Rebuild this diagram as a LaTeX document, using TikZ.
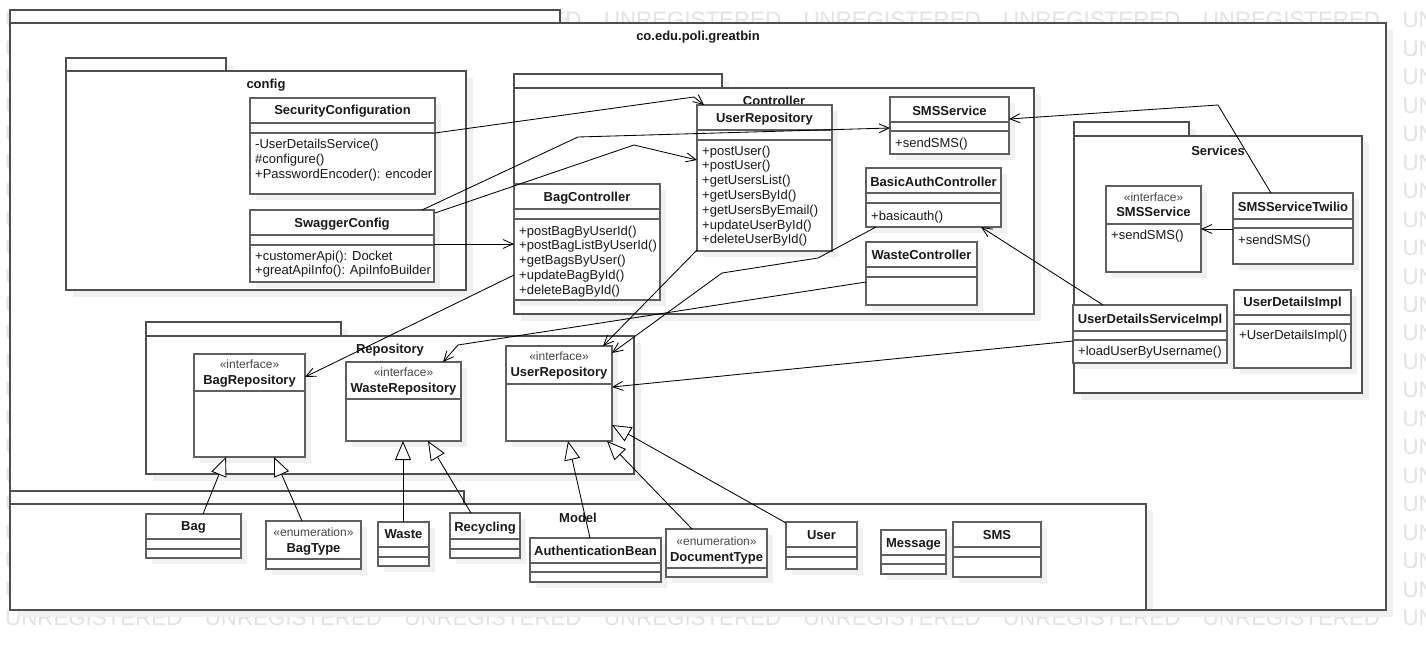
\documentclass[tikz,border=0pt]{standalone}
\usepackage{fontspec}
\setmainfont{Liberation Sans}
\usetikzlibrary{arrows.meta,calc}
\definecolor{wm}{RGB}{226,226,226}
\definecolor{shd}{RGB}{240,240,240}
\definecolor{bord}{RGB}{95,95,95}
\definecolor{pbord}{RGB}{78,78,78}
\definecolor{txt}{RGB}{25,25,25}
\definecolor{stc}{RGB}{70,70,70}
\tikzset{
  pkgbox/.style={draw=pbord, fill=white, line width=1.3pt, inner sep=0pt, outer sep=0pt, anchor=north west},
  clsbox/.style={draw=bord, fill=white, line width=1.3pt, inner sep=0pt, outer sep=0pt, anchor=north west},
  cline/.style={draw=bord, line width=1.3pt},
  cname/.style={font=\bfseries\fontsize{13}{15}\selectfont, text=txt, inner sep=0pt, anchor=base},
  pname/.style={font=\bfseries\fontsize{13}{15}\selectfont, text=txt, inner sep=0pt, anchor=base},
  stereo/.style={font=\fontsize{12}{14}\selectfont, text=stc, inner sep=0pt, anchor=base},
  mtext/.style={font=\fontsize{13}{15}\selectfont, text=txt, inner sep=0pt, anchor=base west},
  wmtext/.style={font=\fontsize{22.3}{26}\selectfont, text=wm, inner sep=0pt, anchor=base west},
  conn/.style={draw=black, line width=0.85pt},
  dep/.style={conn, -{Straight Barb[length=10pt,width=9pt]}},
  realz/.style={conn, -{Triangle[length=19pt,width=16pt,fill=white]}},
}
\newcommand\umlcls[5]{%
  \fill[shd] ({#2+6},{#3+6}) rectangle ({#4+6},{#5+6});
  \node[clsbox, minimum width={#4-#2}, minimum height={#5-#3}] (#1) at (#2,#3) {};}
\newcommand\umlpkg[7]{%
  \fill[shd] ({#2+7},{#3+7}) rectangle ({#4+7},{#5+7});
  \fill[shd] ({#2+7},{#5+7}) rectangle ({#6+7},{#7+7});
  \node[pkgbox, minimum width={#4-#2}, minimum height={#5-#3}] (#1-tab) at (#2,#3) {};
  \node[pkgbox, minimum width={#6-#2}, minimum height={#7-#5}] (#1) at (#2,#5) {};}
\newcommand\cmpline[3]{\draw[cline] (#1,#3) -- (#2,#3);}
\newcommand\mlist[4]{\foreach \t [count=\i] in {#4}{\node[mtext] (#1-m\i) at ({#2},{#3+14.8*(\i-1)}) {\t};}}
\begin{document}
\begin{tikzpicture}[x=1pt,y=-1pt]
\useasboundingbox (0,0) rectangle (1426,650);
\fill[white] (0,0) rectangle (1426,650);
% watermark (only the parts that show)
\foreach \k in {0,21}{
  \foreach \j in {0,...,6}{\node[wmtext] (wm-\k-\j) at ({5+199.6*\j},{28+28.45*\k}) {UNREGISTERED};}
  \node[wmtext] (wm-\k-7) at (1402.4,{28+28.45*\k}) {UN};}
\foreach \k in {1,...,20}{
  \node[wmtext] (wml-\k) at (5,{28+28.45*\k}) {U};
  \node[wmtext] (wmr-\k) at (1402.4,{28+28.45*\k}) {UN};}
% packages
\umlpkg{outer}{10}{10}{560}{23}{1386}{610}
\node[pname] (outerL) at (698,41) {co.edu.poli.greatbin};
\umlpkg{config}{66}{58}{226}{71}{466}{290}
\node[pname] (configL) at (266,89) {config};
\umlpkg{ctrl}{514}{74}{722}{88}{1034}{314}
\node[pname] (ctrlL) at (774,106) {Controller};
\umlpkg{repo}{146}{322}{341}{336}{634}{474}
\node[pname] (repoL) at (390,353) {Repository};
\umlpkg{svc}{1074}{122}{1189}{136}{1362}{393}
\node[pname] (svcL) at (1218,155) {Services};
\umlpkg{model}{10}{491}{464}{504}{1146}{610}
\node[pname] (modelL) at (578,522) {Model};
\draw[draw=pbord, line width=1.3pt] (outer.south west) -- (outer.south east);
% config classes
\umlcls{sec}{250}{98}{435}{194}
\cmpline{250}{435}{123}\cmpline{250}{435}{133}
\node[cname] (secN) at (342.5,115) {SecurityConfiguration};
\mlist{sec}{255}{148.5}{-UserDetailsService(),\#configure(),+PasswordEncoder(): encoder}
\umlcls{swag}{250}{210}{434}{282}
\cmpline{250}{434}{235}\cmpline{250}{434}{245}
\node[cname] (swagN) at (342,227) {SwaggerConfig};
\mlist{swag}{255}{260}{+customerApi(): Docket,+greatApiInfo(): ApiInfoBuilder}
% controller classes
\umlcls{urc}{697}{105}{832}{251}
\cmpline{697}{832}{130}\cmpline{697}{832}{140}
\node[cname] (urcN) at (764.5,122) {UserRepository};
\mlist{urc}{702}{155}{+postUser(),+postUser(),+getUsersList(),+getUsersById(),+getUsersByEmail(),+updateUserById(),+deleteUserById()}
\umlcls{smsc}{890}{97}{1009}{154}
\cmpline{890}{1009}{122}\cmpline{890}{1009}{131}
\node[cname] (smscN) at (949.5,115.5) {SMSService};
\mlist{smsc}{895}{147}{+sendSMS()}
\umlcls{basic}{866}{168}{1001}{227}
\cmpline{866}{1001}{193}\cmpline{866}{1001}{203}
\node[cname] (basicN) at (933.5,186.5) {BasicAuthController};
\mlist{basic}{871}{220}{+basicauth()}
\umlcls{wastec}{866}{242}{977}{305}
\cmpline{866}{977}{267}\cmpline{866}{977}{277}
\node[cname] (wastecN) at (921.5,259) {WasteController};
\umlcls{bagc}{514}{184}{660}{300}
\cmpline{514}{660}{209}\cmpline{514}{660}{219}
\node[cname] (bagcN) at (587,201) {BagController};
\mlist{bagc}{519}{235}{+postBagByUserId(),+postBagListByUserId(),+getBagsByUser(),+updateBagById(),+deleteBagById()}
% services classes
\umlcls{smsi}{1106}{186}{1201}{272}
\cmpline{1106}{1201}{224}
\node[stereo] (smsiS) at (1153.5,201) {«interface»};
\node[cname] (smsiN) at (1153.5,216) {SMSService};
\mlist{smsi}{1111}{239.5}{+sendSMS()}
\umlcls{twilio}{1233}{193}{1353}{264}
\cmpline{1233}{1353}{219}\cmpline{1233}{1353}{228}
\node[cname] (twilioN) at (1293,211.5) {SMSServiceTwilio};
\mlist{twilio}{1238}{244}{+sendSMS()}
\umlcls{udsi}{1073}{305}{1227}{363}
\cmpline{1073}{1227}{331}\cmpline{1073}{1227}{340}
\node[cname] (udsiN) at (1150,323) {UserDetailsServiceImpl};
\mlist{udsi}{1078}{355}{+loadUserByUsername()}
\umlcls{udi}{1234}{290}{1351}{368}
\cmpline{1234}{1351}{315}\cmpline{1234}{1351}{324}
\node[cname] (udiN) at (1292.5,306.5) {UserDetailsImpl};
\mlist{udi}{1239}{339.5}{+UserDetailsImpl()}
% repository interfaces
\umlcls{bagr}{194}{354}{305}{457}
\cmpline{194}{305}{391}
\node[stereo] (bagrS) at (249.5,368.5) {«interface»};
\node[cname] (bagrN) at (249.5,384) {BagRepository};
\umlcls{waster}{346}{362}{461}{441}
\cmpline{346}{461}{399}
\node[stereo] (wasterS) at (403.5,376.5) {«interface»};
\node[cname] (wasterN) at (403.5,392) {WasteRepository};
\umlcls{userr}{506}{346}{612}{441}
\cmpline{506}{612}{384}
\node[stereo] (userrS) at (559,360.5) {«interface»};
\node[cname] (userrN) at (559,376) {UserRepository};
% model classes
\umlcls{bag}{146}{514}{241}{558}
\cmpline{146}{241}{539}\cmpline{146}{241}{549}
\node[cname] (bagN) at (193.5,530.5) {Bag};
\umlcls{bagtype}{266}{521}{361}{569}
\cmpline{266}{361}{559}
\node[stereo] (bagtypeS) at (313.5,536.5) {«enumeration»};
\node[cname] (bagtypeN) at (313.5,552) {BagType};
\umlcls{wastem}{378}{522}{429}{566}
\cmpline{378}{429}{547}\cmpline{378}{429}{557}
\node[cname] (wastemN) at (403.5,538.5) {Waste};
\umlcls{recyc}{450}{513}{520}{558}
\cmpline{450}{520}{539}\cmpline{450}{520}{549}
\node[cname] (recycN) at (485,531) {Recycling};
\umlcls{auth}{530}{538}{661}{582}
\cmpline{530}{661}{563}\cmpline{530}{661}{572}
\node[cname] (authN) at (595.5,555) {AuthenticationBean};
\umlcls{doct}{666}{529}{767}{577}
\cmpline{666}{767}{568}
\node[stereo] (doctS) at (716.5,545) {«enumeration»};
\node[cname] (doctN) at (716.5,561) {DocumentType};
\umlcls{user}{786}{522}{857}{569}
\cmpline{786}{857}{547}\cmpline{786}{857}{557}
\node[cname] (userN) at (821.5,539) {User};
\umlcls{msg}{881}{530}{946}{574}
\cmpline{881}{946}{555}\cmpline{881}{946}{564}
\node[cname] (msgN) at (913.5,547) {Message};
\umlcls{sms}{953}{522}{1041}{577}
\cmpline{953}{1041}{547}\cmpline{953}{1041}{557}
\node[cname] (smsN) at (997,539) {SMS};
% dependencies
\draw[dep] ($(sec.north east)+(0,35)$) -- (694,97) -- ($(urc.north west)+(7,0)$);
\draw[dep] ($(swag.north east)+(-12,0)$) -- (578,137) -- ($(smsc.north west)+(0,31)$);
\draw[dep] ($(swag.north east)+(1,3)$) -- (634,145) -- ($(urc.north west)+(0,55)$);
\draw[dep] ($(swag.north east)+(0,34)$) -- ($(bagc.north west)+(0,60)$);
\draw[dep] ($(bagc.north west)+(0,91)$) -- ($(bagr.north east)+(0,23)$);
\draw[dep] ($(urc.south west)+(0,-1)$) -- ($(userr.north west)+(97,0)$);
\draw[dep] ($(basic.south west)+(10,0)$) -- (818,258) -- (722,273) -- ($(userr.north east)+(0,7)$);
\draw[dep] ($(wastec.north west)+(0,40)$) -- (458,345) -- ($(waster.north west)+(97,0)$);
\draw[dep] ($(udsi.north west)+(0,36)$) -- ($(userr.north east)+(0,41)$);
\draw[dep] ($(udsi.north west)+(30,0)$) -- ($(basic.south east)+(-20,0)$);
\draw[dep] ($(twilio.north west)+(38,0)$) -- (1218,105) -- ($(smsc.north east)+(0,22)$);
\draw[dep] ($(twilio.north west)+(0,36)$) -- ($(smsi.north east)+(0,43)$);
% realizations
\draw[realz] ($(bag.north west)+(57,0)$) -- ($(bagr.south west)+(32,0)$);
\draw[realz] ($(bagtype.north west)+(36,0)$) -- ($(bagr.south west)+(80,0)$);
\draw[realz] ($(wastem.north west)+(25,0)$) -- ($(waster.south west)+(57,0)$);
\draw[realz] ($(recyc.north west)+(21,0)$) -- ($(waster.south west)+(82,0)$);
\draw[realz] ($(auth.north west)+(60,0)$) -- ($(userr.south west)+(62,0)$);
\draw[realz] ($(doct.north west)+(26,0)$) -- ($(userr.south west)+(101,0)$);
\draw[realz] ($(user.north west)+(0,1)$) -- ($(userr.south east)+(0,-16)$);
\end{tikzpicture}
\end{document}
